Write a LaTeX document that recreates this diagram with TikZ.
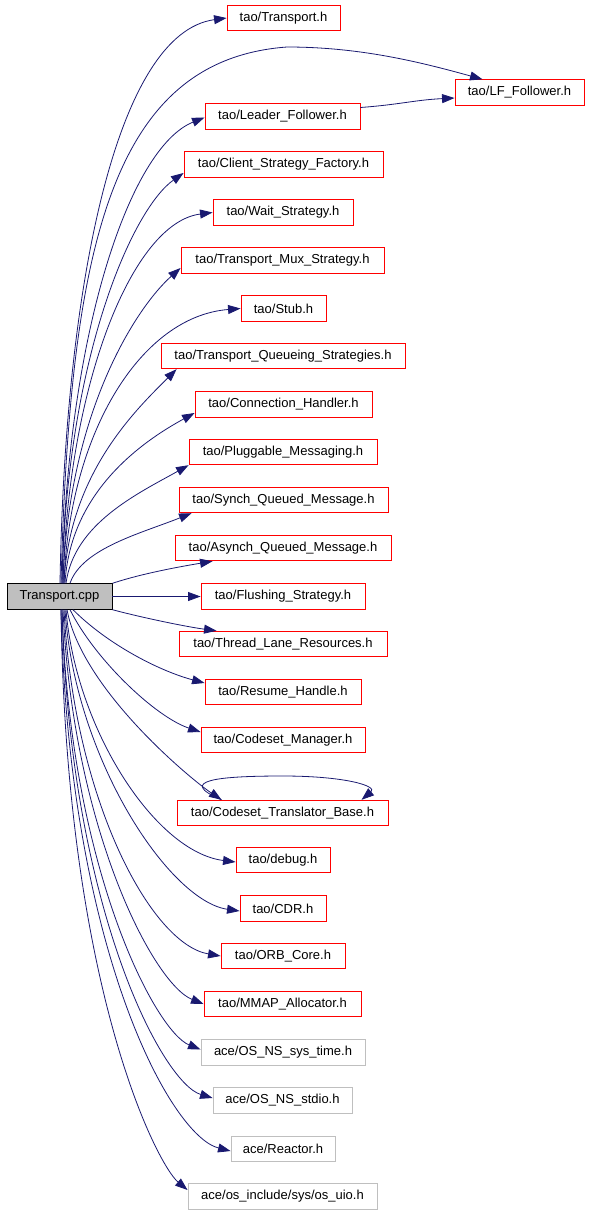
\documentclass[tikz,border=0pt]{standalone}
\usepackage{fontspec}
\setmainfont{Liberation Sans}
\usetikzlibrary{arrows.meta}
\definecolor{edgeblue}{HTML}{191970}
\definecolor{boxred}{HTML}{FF0000}
\definecolor{boxgray}{HTML}{BFBFBF}
\tikzset{
  hbox/.style={draw=boxred, line width=0.9pt, fill=white, minimum height=25.5pt, minimum width=#1, inner sep=0pt, font=\fontsize{13}{15}\selectfont},
  acebox/.style={hbox=#1, draw=boxgray},
  srcbox/.style={draw=black, line width=0.9pt, fill=boxgray, minimum height=25.5pt, minimum width=#1, inner sep=0pt, font=\fontsize{13}{15}\selectfont},
  edge/.style={draw=edgeblue, line width=0.8pt, -{Triangle[length=12.5pt,width=9pt]}}
}
\begin{document}
\begin{tikzpicture}[x=1pt,y=-1pt]
\useasboundingbox (0,0) rectangle (589,1213);
% nodes
\node[srcbox=105pt] (src) at (59.5,596.5) {Transport.cpp};
\node[hbox=113pt] (th) at (283.5,18) {tao/Transport.h};
\node[hbox=129pt] (lf) at (519.5,92.5) {tao/LF\_Follower.h};
\node[hbox=155pt] (leader) at (282.5,116.5) {tao/Leader\_Follower.h};
\node[hbox=199pt] (client) at (283.5,164.5) {tao/Client\_Strategy\_Factory.h};
\node[hbox=140pt] (wait) at (283,212.5) {tao/Wait\_Strategy.h};
\node[hbox=203pt] (mux) at (282.5,260.5) {tao/Transport\_Mux\_Strategy.h};
\node[hbox=85pt] (stub) at (283.5,308.5) {tao/Stub.h};
\node[hbox=244pt] (queue) at (283,356) {tao/Transport\_Queueing\_Strategies.h};
\node[hbox=177pt] (conn) at (283.5,404.5) {tao/Connection\_Handler.h};
\node[hbox=188pt] (plug) at (283,452) {tao/Pluggable\_Messaging.h};
\node[hbox=209pt] (synch) at (283.5,500) {tao/Synch\_Queued\_Message.h};
\node[hbox=216pt] (asynch) at (283,548) {tao/Asynch\_Queued\_Message.h};
\node[hbox=164pt] (flush) at (283,596.5) {tao/Flushing\_Strategy.h};
\node[hbox=208pt] (thread) at (283,644) {tao/Thread\_Lane\_Resources.h};
\node[hbox=156pt] (resume) at (283,692) {tao/Resume\_Handle.h};
\node[hbox=164pt] (csm) at (283,740) {tao/Codeset\_Manager.h};
\node[hbox=211pt] (ctb) at (282.5,813) {tao/Codeset\_Translator\_Base.h};
\node[hbox=94pt] (debug) at (283,860) {tao/debug.h};
\node[hbox=86pt] (cdr) at (283,908.5) {tao/CDR.h};
\node[hbox=124pt] (orb) at (283,956) {tao/ORB\_Core.h};
\node[hbox=157pt] (mmap) at (282.5,1004) {tao/MMAP\_Allocator.h};
\node[acebox=164pt] (systime) at (283,1052.5) {ace/OS\_NS\_sys\_time.h};
\node[acebox=139pt] (stdio) at (282.5,1100.5) {ace/OS\_NS\_stdio.h};
\node[acebox=104pt] (reactor) at (283,1149) {ace/Reactor.h};
\node[acebox=189pt] (uio) at (282.5,1196.5) {ace/os\_include/sys/os\_uio.h};
\coordinate (lfvia) at (287,47);
% upper edges
\draw[edge] ([xshift=0.5pt]src.north) .. controls +(5,-300) and +(-110,15) .. (th.west);
\draw[edge] ([xshift=1.5pt]src.north) .. controls +(9,-334) and (110,60) .. (lfvia) .. controls (360,47) and (420,62) .. ([xshift=-37pt]lf.north);
\draw[edge] ([yshift=9pt]leader.east) .. controls +(40,-3) and +(-40,2) .. ([yshift=-5.5pt]lf.west);
\draw[edge] ([xshift=2.5pt]src.north) .. controls +(5,-250) and +(-75,30) .. ([yshift=-1pt]leader.west);
\draw[edge] ([xshift=2.5pt]src.north) .. controls +(5,-230) and +(-50,35) .. ([yshift=-8.5pt]client.west);
\draw[edge] ([xshift=3.5pt]src.north) .. controls +(5,-200) and +(-80,10) .. (wait.west);
\draw[edge] ([xshift=3.5pt]src.north) .. controls +(5,-170) and +(-45,40) .. ([yshift=-7.5pt]mux.west);
\draw[edge] ([xshift=4.5pt]src.north) .. controls +(5,-150) and +(-100,8) .. (stub.west);
\draw[edge] ([xshift=4.5pt]src.north) .. controls +(5,-110) and +(-40,40) .. ([xshift=16pt]queue.south west);
\draw[edge] ([xshift=5.5pt]src.north) .. controls +(5,-90) and +(-55,30) .. ([yshift=-8.5pt]conn.west);
\draw[edge] ([xshift=6.5pt]src.north) .. controls +(8,-60) and +(-50,28) .. (plug.south west);
\draw[edge] ([xshift=10.5pt]src.north) .. controls +(12,-35) and +(-50,20) .. ([xshift=13pt]synch.south west);
\draw[edge] (src.north east) .. controls +(30,-10) and +(-30,5) .. ([xshift=38pt]asynch.south west);
\draw[edge] (src.east) -- (flush.west);
\draw[edge] (src.south east) .. controls +(30,8) and +(-30,-4) .. ([xshift=38pt]thread.north west);
% lower edges
\draw[edge] ([xshift=13.5pt]src.south) .. controls +(35,35) and +(-45,-12) .. ([yshift=9pt]resume.west);
\draw[edge] ([xshift=10.5pt]src.south) .. controls +(25,50) and +(-45,-15) .. ([yshift=8pt]csm.west);
\draw[edge] ([xshift=7.5pt]src.south) .. controls +(15,80) and +(-30,-20) .. ([xshift=45pt]ctb.north west);
\draw[edge] ([xshift=45pt]ctb.north west) .. controls (175,780) and (220,776) .. (283,776) .. controls (345,776) and (378,786) .. ([xshift=185pt]ctb.north west);
\draw[edge] ([xshift=6.5pt]src.south) .. controls +(10,120) and +(-80,-10) .. ([yshift=-2pt]debug.west);
\draw[edge] ([xshift=5.5pt]src.south) .. controls +(10,150) and +(-70,-10) .. ([yshift=-2.5pt]cdr.west);
\draw[edge] ([xshift=4.5pt]src.south) .. controls +(10,190) and +(-70,-12) .. (orb.west);
\draw[edge] ([xshift=3.5pt]src.south) .. controls +(10,220) and +(-50,-20) .. (mmap.west);
\draw[edge] ([xshift=2.5pt]src.south) .. controls +(8,260) and +(-45,-18) .. ([yshift=3pt]systime.west);
\draw[edge] ([xshift=2.5pt]src.south) .. controls +(8,300) and +(-50,-15) .. ([yshift=2.5pt]stdio.west);
\draw[edge] ([xshift=1.5pt]src.south) .. controls +(8,340) and +(-60,-15) .. ([yshift=-2pt]reactor.west);
\draw[edge] ([xshift=1.5pt]src.south) .. controls +(5,380) and +(-30,-25) .. ([yshift=6.5pt]uio.west);
\end{tikzpicture}
\end{document}
